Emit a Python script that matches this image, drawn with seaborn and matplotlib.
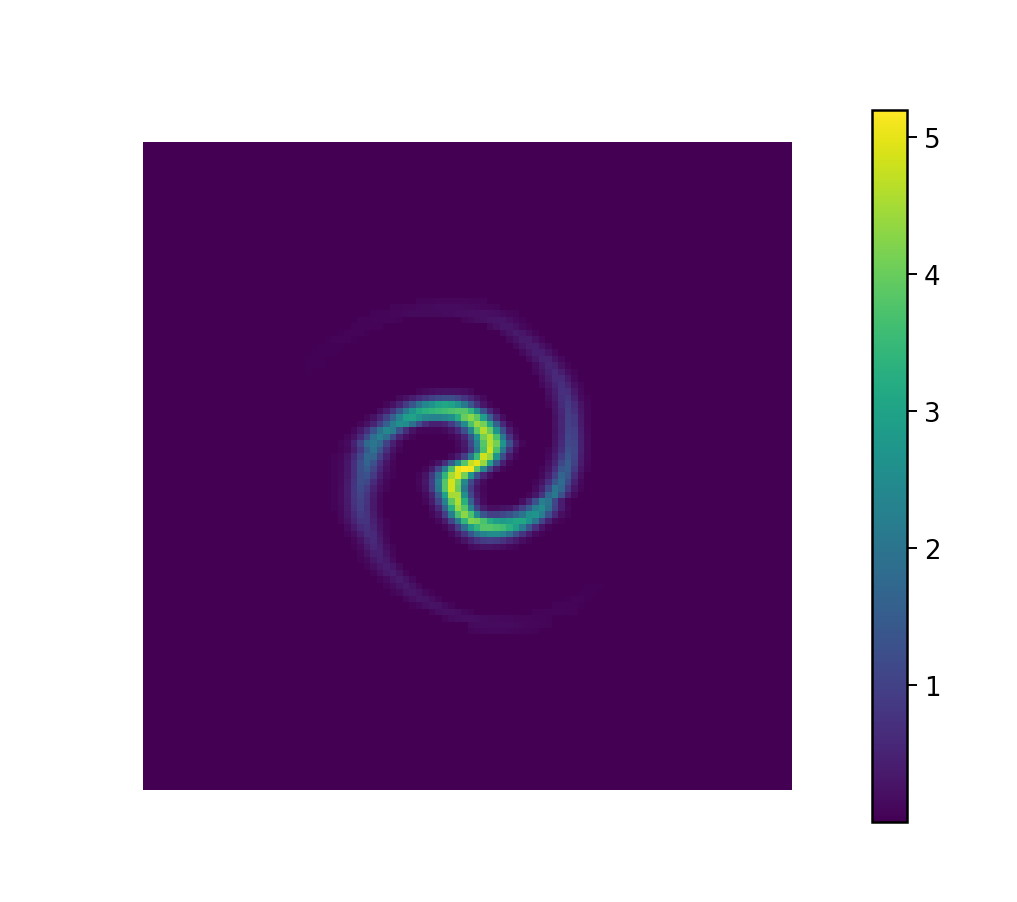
import numpy as np
import matplotlib
matplotlib.use("Agg")
import matplotlib.pyplot as plt
import seaborn as sns

# Values, as (row, first column, cell values) on a 100x100 mesh.
# Everything not listed stays at the background value.
background_value = 0.002
colorbar_min = 0.002
colorbar_max = 5.2
colorbar_ticks = [1, 2, 3, 4, 5]

top_arc = [
    (24, 42, [.07, .08, .08, .09, .09, .09, .09, .09, .08, .08, .07]),
    (25, 38, [.07, .08, .09, .1, .12, .13, .14, .15, .16, .16, .15, .14, .13, .12, .1, .09, .07]),
    (26, 35, [.06, .07, .08, .09, .1, .11, .13, .14, .14, .14, .14, .15, .16, .17, .18, .19, .2, .21, .2, .17, .14, .1, .08]),
    (27, 33, [.05, .06, .07, .08, .08, .07, .05]),
    (27, 49, [.09, .14, .17, .21, .25, .28, .28, .19, .11, .06]),
    (28, 32, [.05, .06, .06, .06, .05]),
    (28, 53, [.13, .22, .3, .29, .21, .11, .06]),
    (29, 30, [.04, .05, .06, .05, .04]),
    (30, 28, [.04, .05, .05, .05, .04]),
    (31, 27, [.04, .04, .04, .04]),
    (32, 26, [.04, .04, .04, .03]),
    (33, 25, [.03, .03, .03]),
    (34, 25, [.03, .03, .03]),
    (35, 24, [.02, .03, .02]),
]

right_arc = [
    (29, 55, [.15, .26, .35, .29, .18, .08]),
    (30, 56, [.13, .24, .36, .36, .22, .09]),
    (31, 57, [.13, .26, .38, .4, .24, .11]),
    (32, 58, [.14, .27, .42, .42, .26, .11]),
    (33, 59, [.15, .3, .47, .47, .26, .11]),
    (34, 60, [.16, .34, .52, .45, .22, .08]),
    (35, 60, [.11, .26, .45, .58, .4, .17, .07]),
    (36, 61, [.18, .37, .6, .6, .34, .12]),
    (37, 61, [.11, .27, .5, .68, .5, .22, .08]),
    (38, 62, [.2, .4, .7, .66, .34, .12]),
    (39, 62, [.15, .35, .68, .8, .45, .16, .06]),
    (40, 62, [.1, .28, .62, .88, .62, .25, .08]),
    (41, 63, [.25, .55, .93, .7, .3, .1]),
    (42, 63, [.22, .52, .97, .83, .33, .1]),
    (43, 63, [.23, .55, 1.0, .85, .35, .1]),
    (44, 63, [.22, .52, 1.02, .95, .42, .12]),
    (45, 63, [.24, .55, 1.08, 1.0, .44, .13]),
    (46, 63, [.26, .58, 1.13, 1.05, .46, .14]),
    (47, 62, [.08, .3, .68, 1.26, 1.08, .45, .13]),
    (48, 62, [.12, .4, .88, 1.38, 1.05, .42, .12]),
    (49, 62, [.17, .5, 1.1, 1.48, 1.0, .38, .1]),
    (50, 61, [.08, .25, .7, 1.35, 1.5, .85, .3, .08]),
    (51, 61, [.14, .4, .95, 1.65, 1.4, .65, .2]),
    (52, 60, [.08, .25, .7, 1.4, 1.8, 1.15, .45, .12]),
    (53, 60, [.15, .45, 1.1, 2.0, 1.7, .85, .3, .08]),
    (54, 59, [.1, .3, .8, 1.7, 2.1, 1.3, .5, .15]),
    (55, 58, [.2, .6, 1.3, 2.2, 2.0, 1.1, .4, .1]),
]

inner_swirl = [
    (38, 42, [.1, .16, .2, .24, .26, .26, .24, .2, .14]),
    (39, 39, [.14, .24, .42, .6, .8, 1.0, 1.15, 1.2, 1.2, 1.05, .8, .55, .3, .14]),
    (40, 37, [.1, .24, .5, .9, 1.4, 1.95, 2.4, 2.7, 3.0, 3.1, 3.0, 2.7, 2.1, 1.4, .75, .3, .1]),
    (41, 36, [.18, .4, .8, 1.35, 2.1, 2.7, 3.1, 3.3, 3.4, 3.5, 3.6, 3.7, 3.8, 3.8, 3.4, 2.5, 1.4, .6, .2]),
    (42, 34, [.1, .24, .55, 1.0, 1.6, 2.3, 2.9, 3.0, 2.7, 2.4, 2.3, 2.3, 2.4, 2.6, 3.2, 4.0, 4.3, 3.9, 2.9, 1.6, .65, .18]),
    (43, 33, [.1, .24, .5, .95, 1.55, 2.2, 2.6, 2.5, 1.9, 1.2, .7, .45, .45, .55, .9, 1.5, 2.5, 3.7, 4.4, 4.1, 3.1, 1.6, .6, .15]),
    (44, 32, [.12, .34, .72, 1.3, 1.95, 2.4, 2.15, 1.3, .65, .25, .1, .08, .08, .08, .14, .28, .6, 1.3, 2.4, 3.9, 4.6, 4.0, 2.7, 1.3, .42, .1]),
    (45, 31, [.1, .24, .6, 1.15, 1.85, 2.25, 1.85, 1.1, .5, .2, .08]),
    (45, 47, [.08, .2, .55, 1.4, 2.7, 4.1, 4.6, 3.7, 2.1, .8, .2]),
    (46, 30, [.07, .16, .48, 1.05, 1.75, 2.05, 1.75, 1.0, .45, .15]),
    (46, 48, [.14, .35, 1.1, 2.3, 3.8, 4.65, 4.1, 2.7, 1.3, .4, .1]),
    (47, 30, [.06, .14, .38, .85, 1.45, 1.95, 1.35, .7, .25, .08]),
    (47, 48, [.1, .3, .9, 2.1, 3.7, 4.8, 3.7, 2.1, .8, .2]),
    (48, 29, [.06, .1, .25, .6, 1.1, 1.7, 1.65, 1.0, .45, .15]),
    (48, 47, [.16, .42, .95, 2.1, 3.5, 4.8, 4.4, 2.7, 1.2, .35, .08]),
    (49, 29, [.06, .12, .3, .7, 1.25, 1.65, 1.3, .7, .28, .09]),
    (49, 44, [.1, .26, .7, 1.5, 2.6, 3.8, 4.7, 5.0, 4.4, 3.0, 1.4, .45, .1]),
    (50, 29, [.06, .12, .3, .7, 1.25, 1.5, 1.05, .55, .22, .07]),
    (50, 43, [.1, .38, 1.05, 2.2, 3.7, 5.0, 5.2, 5.1, 3.9, 2.4, 1.1, .38, .1]),
    (51, 29, [.06, .14, .32, .7, 1.2, 1.3, .88, .42, .16, .06]),
    (51, 42, [.08, .26, .85, 1.9, 3.4, 4.5, 4.95, 4.1, 2.7, 1.3, .55, .18]),
    (52, 29, [.06, .14, .35, .76, 1.22, 1.1, .62, .28, .1]),
    (52, 42, [.1, .32, .95, 2.2, 3.8, 4.85, 4.1, 2.4, 1.15, .45, .16]),
    (53, 29, [.06, .16, .38, .8, 1.15, .9, .48, .2, .07]),
    (53, 42, [.08, .26, .9, 2.1, 3.8, 4.85, 4.0, 2.1, .9, .3, .1]),
    (54, 29, [.06, .16, .38, .78, 1.05, .78, .38, .14]),
    (54, 43, [.16, .5, 1.45, 3.0, 4.5, 4.5, 2.6, 1.1, .38, .12]),
    (55, 29, [.06, .15, .36, .74, 1.0, .74, .34, .12]),
    (55, 43, [.1, .35, 1.05, 2.3, 3.9, 4.6, 3.3, 1.6, .55, .15]),
    (56, 29, [.05, .14, .34, .7, .95, .72, .34, .12]),
    (56, 44, [.18, .6, 1.65, 3.2, 4.4, 3.8, 2.3, 1.0, .42, .2, .2, .25, .3, .55, .95, 1.5, 2.2, 2.5, 1.9, 1.0, .42, .12]),
    (57, 30, [.12, .3, .6, .88, .74, .38, .14]),
    (57, 44, [.1, .3, .95, 2.2, 3.7, 4.3, 3.7, 2.4, 1.4, 1.0, 1.0, 1.1, 1.3, 1.6, 2.0, 2.6, 2.7, 2.2, 1.3, .6, .2, .08]),
    (58, 30, [.1, .24, .5, .74, .76, .46, .2, .07]),
    (58, 45, [.12, .38, 1.05, 2.1, 3.4, 4.2, 4.1, 3.7, 3.2, 2.9, 2.8, 2.9, 3.1, 3.1, 2.7, 2.0, 1.05, .45, .14, .06]),
    (59, 31, [.16, .34, .58, .72, .52, .24, .08]),
    (59, 46, [.1, .34, .95, 1.9, 2.9, 3.4, 3.8, 3.8, 3.7, 3.6, 3.3, 2.9, 2.2, 1.35, .7, .28, .08]),
    (60, 31, [.07, .18, .4, .64, .6, .3, .1]),
    (60, 47, [.12, .35, .8, 1.4, 2.0, 2.3, 2.5, 2.5, 2.3, 1.9, 1.3, .8, .42, .16, .06]),
    (61, 32, [.1, .24, .5, .6, .36, .13]),
    (61, 48, [.1, .25, .5, .75, .9, .95, .9, .75, .55, .35, .18, .08]),
    (62, 32, [.06, .16, .36, .54, .44, .2, .07]),
    (62, 50, [.15, .2, .25, .25, .22, .18, .12, .07]),
]

bottom_arc = [
    (63, 33, [.1, .24, .44, .46, .26, .1]),
    (64, 33, [.06, .14, .3, .44, .34, .15]),
    (65, 34, [.08, .17, .32, .42, .3, .13]),
    (66, 35, [.08, .2, .34, .4, .26, .1]),
    (67, 36, [.07, .16, .28, .36, .26, .12]),
    (68, 37, [.07, .15, .26, .33, .24, .12]),
    (68, 68, [.03, .04, .03]),
    (69, 38, [.07, .14, .26, .3, .24, .13, .06]),
    (69, 67, [.04, .04, .04]),
    (70, 40, [.12, .2, .27, .26, .18, .09]),
    (70, 65, [.04, .05, .05, .04]),
    (71, 41, [.06, .12, .2, .25, .24, .16, .08]),
    (71, 63, [.05, .06, .06, .05, .04]),
    (72, 44, [.1, .18, .22, .22, .17, .11, .07]),
    (72, 60, [.06, .06, .07, .07, .07, .06, .05]),
    (73, 46, [.09, .15, .18, .19, .19, .18, .16, .14, .13, .12, .11, .1, .1, .09, .08, .07, .06]),
    (74, 50, [.13, .15, .16, .16, .16, .16, .15, .14, .12, .1, .09, .08, .06]),
    (75, 50, [.07, .09, .1, .11, .11, .11, .1, .09, .08, .07, .06]),
]


def buildGrid():
    grid = np.full((100, 100), background_value)
    for part in [top_arc, right_arc, inner_swirl, bottom_arc]:
        for row, first_col, values in part:
            grid[row, first_col:first_col + len(values)] = values
    return grid


def main():
    grid = buildGrid()

    fig = plt.figure(figsize=(10.17, 9.03), dpi=100)
    ax = fig.add_axes([143 / 1017, 112 / 903, 649 / 1017, 648 / 903])
    cax = fig.add_axes([872 / 1017, 80 / 903, 35 / 1017, 712 / 903])

    sns.heatmap(grid, ax=ax, cbar_ax=cax, cmap="viridis", vmin=colorbar_min, vmax=colorbar_max,
                xticklabels=False, yticklabels=False, rasterized=True)

    cbar = ax.collections[0].colorbar
    cbar.set_ticks(colorbar_ticks)
    cbar.outline.set_visible(True)
    cbar.outline.set_linewidth(1.8)
    cbar.outline.set_edgecolor("black")
    cax.tick_params(labelsize=18.7, length=7, width=1.4, pad=5, right=True, color="black")

    fig.savefig("out.png", dpi=100)


if __name__ == "__main__":
    main()
